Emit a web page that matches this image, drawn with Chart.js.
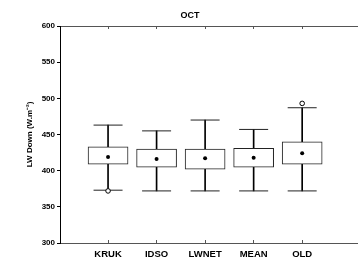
<!DOCTYPE html>
<html>
<head>
<meta charset="utf-8">
<script src="https://cdn.jsdelivr.net/npm/chart.js@4/dist/chart.umd.min.js"></script>
<style>
  html, body { margin: 0; padding: 0; background: #fff; overflow: hidden; }
  #wrap { width: 380px; height: 261px; }
</style>
</head>
<body>
<div id="wrap"><canvas id="chart-box"></canvas></div>
<script>
var categories = ['KRUK', 'IDSO', 'LWNET', 'MEAN', 'OLD'];
var minVals = [373, 372, 372, 372, 372];
var q1Vals = [409, 405, 402, 405, 409];
var q3Vals = [433, 430, 430, 431, 440];
var maxVals = [463, 455, 470, 457, 487];
var meanVals = [419, 416, 417, 418, 424];
var outlierCats = ['KRUK', 'OLD'];
var outlierVals = [372, 493];
var yTicks = [300, 350, 400, 450, 500, 550, 600];

var font = 'Liberation Sans, Arial, sans-serif';
var xMin = 0.0098, xMax = 6.2843;

function pos(i) { return i + 1; }

var whiskers = categories.map(function(c, i) {
    return { x: pos(i), y: [minVals[i], maxVals[i]] };
});
var boxes = categories.map(function(c, i) {
    return { x: pos(i), y: [q1Vals[i], q3Vals[i]] };
});
var caps = [];
categories.forEach(function(c, i) {
    caps.push({ x: pos(i), y: minVals[i] });
    caps.push({ x: pos(i), y: maxVals[i] });
});
var means = categories.map(function(c, i) {
    return { x: pos(i), y: meanVals[i] };
});
var outliers = outlierCats.map(function(c, i) {
    return { x: pos(categories.indexOf(c)), y: outlierVals[i] };
});

// small inward ticks on top and bottom frame
var innerTicks = {
    id: 'innerTicks',
    afterDatasetsDraw: function(chart) {
        var ctx = chart.ctx, a = chart.chartArea, sx = chart.scales.x;
        ctx.save();
        ctx.strokeStyle = '#555';
        ctx.lineWidth = 1;
        categories.forEach(function(c, i) {
            var px = Math.floor(sx.getPixelForValue(pos(i))) + 0.5;
            ctx.beginPath();
            ctx.moveTo(px, a.bottom);
            ctx.lineTo(px, a.bottom - 3);
            ctx.moveTo(px, a.top);
            ctx.lineTo(px, a.top + 3);
            ctx.stroke();
        });
        ctx.restore();
    }
};

const ctx = document.getElementById('chart-box').getContext('2d');
const myChart = new Chart(ctx, {
    type: 'bar',
    data: {
        datasets: [{
            label: 'whisker',
            data: whiskers,
            backgroundColor: '#000',
            barThickness: 1,
            grouped: false,
            order: 3
        },
        {
            label: 'box',
            data: boxes,
            backgroundColor: '#fff',
            borderColor: '#222',
            borderWidth: 1,
            borderSkipped: false,
            barThickness: 40,
            grouped: false,
            order: 2
        },
        {
            type: 'scatter',
            label: 'caps',
            data: caps,
            pointStyle: 'line',
            radius: 14.5,
            borderColor: '#222',
            borderWidth: 1,
            order: 1
        },
        {
            type: 'scatter',
            label: 'mean',
            data: means,
            pointStyle: 'circle',
            radius: 2,
            backgroundColor: '#000',
            borderColor: '#000',
            borderWidth: 0,
            order: 0
        },
        {
            type: 'scatter',
            label: 'outliers',
            data: outliers,
            pointStyle: 'circle',
            radius: 2.3,
            backgroundColor: '#fff',
            borderColor: '#000',
            borderWidth: 1,
            order: 0
        }]
    },
    options: {
        responsive: true,
        maintainAspectRatio: false,
        animation: false,
        events: [],
        layout: { padding: 0 },
        plugins: {
            legend: { display: false },
            tooltip: { enabled: false },
            title: {
                display: true,
                text: 'OCT',
                color: '#000',
                font: { family: font, size: 9, weight: 'bold' },
                padding: { top: 10, bottom: 5.2 }
            }
        },
        scales: {
            x: {
                type: 'linear',
                position: 'bottom',
                offset: false,
                min: xMin,
                max: xMax,
                afterBuildTicks: function(s) {
                    s.ticks = categories.map(function(c, i) { return { value: pos(i) }; });
                },
                afterFit: function(s) { s.height = 18; },
                grid: { display: false, drawTicks: false },
                border: { display: true, color: '#555', width: 1 },
                ticks: {
                    autoSkip: false,
                    maxRotation: 0,
                    padding: 6,
                    color: '#000',
                    font: { family: font, size: 9.5, weight: 'bold' },
                    callback: function(v, i) { return categories[i]; }
                }
            },
            x2: {
                type: 'linear',
                position: 'top',
                offset: false,
                min: xMin,
                max: xMax,
                afterFit: function(s) { s.height = 0; },
                grid: { display: false, drawTicks: false },
                border: { display: true, color: '#555', width: 1 },
                ticks: { display: false }
            },
            y: {
                min: 300,
                max: 600,
                afterBuildTicks: function(s) {
                    s.ticks = yTicks.map(function(v) { return { value: v }; });
                },
                afterFit: function(s) { s.width = 60; },
                grid: { display: true, drawOnChartArea: false, drawTicks: true, tickLength: 3, color: '#000' },
                border: { display: true, color: '#000', width: 1 },
                ticks: {
                    padding: 2,
                    color: '#000',
                    font: { family: font, size: 8, weight: 'bold' }
                },
                title: {
                    display: true,
                    text: 'LW Down (W.m\u207B\u00B2)',
                    color: '#000',
                    font: { family: font, size: 8, weight: 'bold' },
                    padding: { top: 25, bottom: 0 }
                }
            }
        }
    },
    plugins: [innerTicks]
});
</script>
</body>
</html>
